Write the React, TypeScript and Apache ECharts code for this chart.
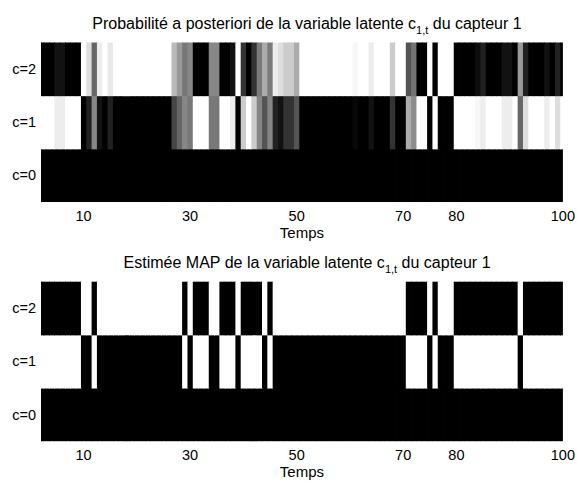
import React, { useEffect, useRef } from "react";
import * as echarts from "echarts";

// Rows (latent states) and x ticks
const rowLabels = ["c=0", "c=1", "c=2"];
const xTicks = [10, 30, 50, 70, 80, 100];
const tStart = 1;

// Posterior probabilities, t = 1..100
const probC0 = [
  0, 0, 0, 0, 0, 0, 0, 0, 0, 0,
  0, 0, 0, 0, 0, 0, 0, 0, 0, 0,
  0, 0, 0, 0, 0, 0, 0, 0, 0, 0,
  0, 0, 0, 0, 0, 0, 0, 0, 0, 0,
  0, 0, 0, 0, 0, 0, 0, 0, 0, 0,
  0, 0, 0, 0, 0, 0, 0, 0, 0, 0,
  0, 0, 0, 0, 0, 0, 0, 0, 0, 0,
  0, 0, 0, 0, 0, 0, 0, 0, 0, 0,
  0, 0, 0, 0, 0, 0, 0, 0, 0, 0,
  0, 0, 0, 0, 0, 0, 0, 0, 0, 0,
];
const probC1 = [
  1, 1, 1, 1, 0.93, 0.93, 1, 1, 1, 0,
  0.13, 0.53, 0.07, 0, 0.13, 0, 0, 0, 0, 0,
  0, 0, 0, 0, 0, 0, 0.27, 0.4, 0.53, 0.47,
  1, 1, 1, 0.47, 0.47, 1, 1, 0.93, 0, 0.8,
  1, 0.8, 0.52, 0.33, 0.52, 0.13, 0.07, 0.2, 0.2, 0.33,
  0, 0, 0, 0, 0, 0, 0, 0, 0, 0,
  0.03, 0, 0, 0.07, 0, 0, 0, 0.2, 0, 0,
  0.67, 0.55, 1, 1, 0, 1, 0, 0, 0, 1,
  1, 1, 1, 0.97, 0.93, 1, 1, 1, 0.93, 0.93,
  1, 0.4, 0.87, 1, 1, 1, 0.93, 1, 0.87, 1,
];
const probC2 = [
  0, 0, 0, 0, 0.07, 0.07, 0, 0, 0, 1,
  0.87, 0.4, 0.93, 1, 0.91, 1, 1, 1, 1, 1,
  1, 1, 1, 1, 1, 1, 0.73, 0.6, 0.47, 0.53,
  0, 0, 0, 0.53, 0.53, 0, 0, 0.07, 1, 0.2,
  0, 0.2, 0.48, 0.67, 0.48, 0.93, 0.87, 0.8, 0.8, 0.67,
  1, 1, 1, 1, 1, 1, 1, 1, 1, 1,
  0.97, 1, 1, 0.93, 1, 1, 1, 0.8, 1, 1,
  0.33, 0.45, 0, 0, 1, 0, 1, 1, 1, 0,
  0, 0, 0, 0.05, 0.13, 0, 0, 0, 0.07, 0.07,
  0, 0.6, 0.13, 0, 0, 0, 0.07, 0, 0.13, 0,
];

// MAP estimate (state index), t = 1..100
const mapState = [
  1, 1, 1, 1, 1, 1, 1, 1, 1, 2,
  2, 1, 2, 2, 2, 2, 2, 2, 2, 2,
  2, 2, 2, 2, 2, 2, 2, 2, 1, 2,
  1, 1, 1, 2, 2, 1, 1, 1, 2, 1,
  1, 1, 1, 2, 1, 2, 2, 2, 2, 2,
  2, 2, 2, 2, 2, 2, 2, 2, 2, 2,
  2, 2, 2, 2, 2, 2, 2, 2, 2, 2,
  1, 1, 1, 1, 2, 1, 2, 2, 2, 1,
  1, 1, 1, 1, 1, 1, 1, 1, 1, 1,
  1, 2, 1, 1, 1, 1, 1, 1, 1, 1,
];

const FONT = "'Liberation Sans', Arial, Helvetica, sans-serif";

function buildProbData() {
  const rows = [probC0, probC1, probC2];
  const out: number[][] = [];
  rows.forEach((arr, r) => arr.forEach((v, i) => out.push([tStart + i, r, v])));
  return out;
}
function buildMapData() {
  const out: number[][] = [];
  for (let r = 0; r < rowLabels.length; r++) {
    mapState.forEach((s, i) => out.push([tStart + i, r, s === r ? 1 : 0]));
  }
  return out;
}

const renderItem = (params: any, api: any) => {
  const t = api.value(0);
  const r = api.value(1);
  const v = api.value(2);
  const c = api.coord([t, r]);
  const size = api.size([1, 1]);
  const g = Math.round(v * 255);
  const col = `rgb(${g},${g},${g})`;
  const cs = params.coordSys;
  // slight overlap to hide anti-aliasing seams between neighbouring cells
  const rect = echarts.graphic.clipRectByRect(
    {
      x: c[0] - size[0] / 2,
      y: c[1] - size[1] / 2 - 0.5,
      width: size[0] + 0.8,
      height: size[1] + 1,
    },
    { x: cs.x, y: cs.y, width: cs.width, height: cs.height }
  );
  if (!rect) return null;
  return { type: "rect", shape: rect, style: { fill: col } };
};

const GRID_LEFT = 41;
const GRID_W = 522;
const GRID_H = 159.5;
const TICK_FS = 14.5;
const LABEL_FS = 15;
const TITLE_FS = 16;

function xAxis(gridIndex: number) {
  return {
    type: "value",
    gridIndex,
    min: 2,
    max: 100,
    name: "Temps",
    nameLocation: "middle",
    nameGap: 23,
    nameTextStyle: { color: "#000", fontSize: LABEL_FS, fontFamily: FONT },
    axisLine: { show: false },
    axisTick: { show: false },
    splitLine: { show: false },
    axisLabel: {
      customValues: xTicks,
      color: "#000",
      fontSize: TICK_FS,
      fontFamily: FONT,
      margin: 6,
      showMinLabel: true,
      showMaxLabel: true,
    },
  };
}
function yAxis(gridIndex: number) {
  return {
    type: "category",
    gridIndex,
    data: rowLabels,
    axisLine: { show: true, lineStyle: { color: "#999", width: 1 } },
    axisTick: { show: false },
    splitLine: { show: false },
    axisLabel: { color: "#000", fontSize: TICK_FS, fontFamily: FONT, margin: 5 },
  };
}

function titleRich(main: string, after: string, top: number) {
  return {
    left: GRID_LEFT + GRID_W / 2,
    top,
    textAlign: "center",
    text: `{a|${main}}{s|1,t}{a| ${after}}`,
    textStyle: {
      fontWeight: "normal",
      rich: {
        a: {
          fontSize: TITLE_FS,
          fontWeight: "normal",
          fontFamily: FONT,
          color: "#000",
          lineHeight: 20,
          verticalAlign: "top",
        },
        s: {
          fontSize: 11,
          fontWeight: "normal",
          fontFamily: FONT,
          color: "#000",
          lineHeight: 8,
          verticalAlign: "bottom",
        },
      },
    },
  };
}

export default function App() {
  const ref = useRef<HTMLDivElement>(null);
  useEffect(() => {
    if (!ref.current) return;
    const chart = echarts.init(ref.current, null, { renderer: "svg" });
    chart.setOption({
      animation: false,
      backgroundColor: "#fff",
      title: [
        titleRich("Probabilité a posteriori de la variable latente c", "du capteur 1", 10),
        titleRich("Estimée MAP de la variable latente c", "du capteur 1", 249),
      ],
      grid: [
        { left: GRID_LEFT, top: 42.5, width: GRID_W, height: GRID_H },
        { left: GRID_LEFT, top: 281.7, width: GRID_W, height: GRID_H },
      ],
      xAxis: [xAxis(0), xAxis(1)],
      yAxis: [yAxis(0), yAxis(1)],
      series: [
        {
          type: "custom",
          xAxisIndex: 0,
          yAxisIndex: 0,
          renderItem,
          encode: { x: 0, y: 1 },
          data: buildProbData(),
        },
        {
          type: "custom",
          xAxisIndex: 1,
          yAxisIndex: 1,
          renderItem,
          encode: { x: 0, y: 1 },
          data: buildMapData(),
        },
      ],
    });
    return () => chart.dispose();
  }, []);
  return (
    <div
      ref={ref}
      style={{ position: "fixed", left: 0, top: 0, width: 578, height: 481, background: "#fff" }}
    />
  );
}
